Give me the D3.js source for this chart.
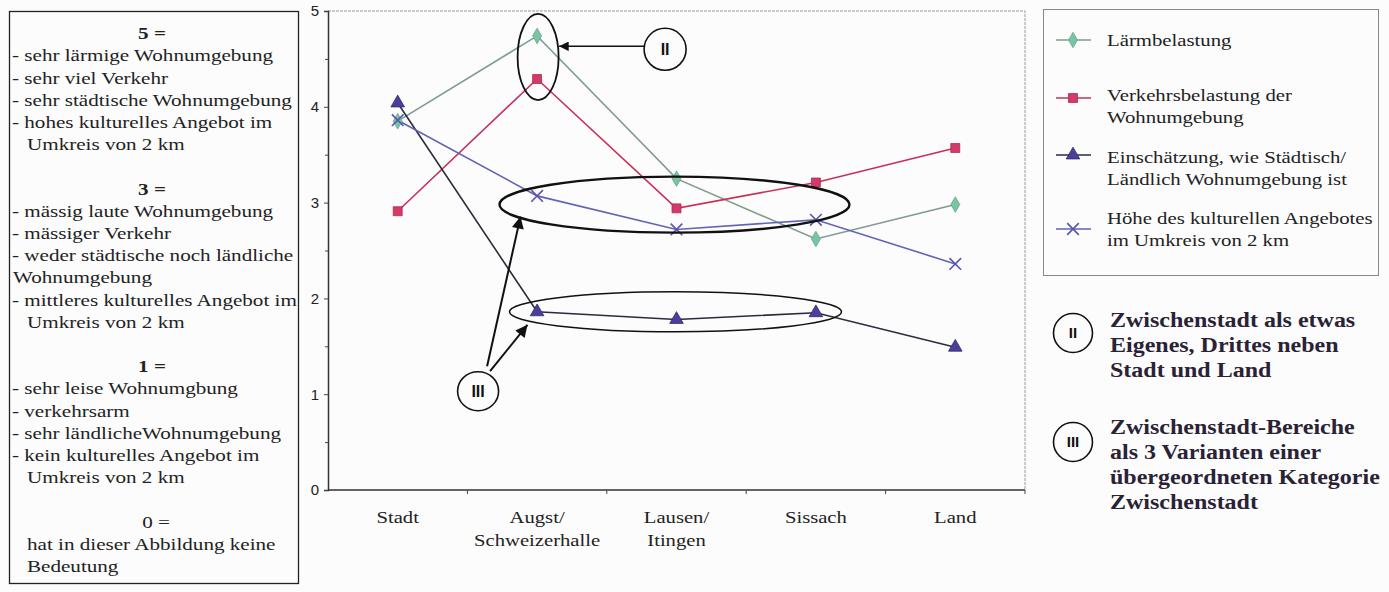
<!DOCTYPE html>
<html>
<head>
<meta charset="utf-8">
<script src="https://cdn.jsdelivr.net/npm/d3@7"></script>
<style>
  body { margin: 0; background: #fcfcfc; }
  svg { display: block; }
</style>
</head>
<body>
<svg id="chart" width="1389" height="592"></svg>
<script>
// categories + series
const categories = [["Stadt"], ["Augst/", "Schweizerhalle"], ["Lausen/", "Itingen"], ["Sissach"], ["Land"]];
const catKeys = ["Stadt", "Augst", "Lausen", "Sissach", "Land"];
const laerm = [3.85, 4.74, 3.25, 2.62, 2.98];
const verkehr = [2.91, 4.29, 2.94, 3.21, 3.57];
const einschaetzung = [4.04, 1.86, 1.78, 1.85, 1.49];
const kultur = [3.86, 3.07, 2.72, 2.82, 2.36];
const yTicks = [0, 1, 2, 3, 4, 5];

const seriesNames = [
  ["Lärmbelastung"],
  ["Verkehrsbelastung der", "Wohnumgebung"],
  ["Einschätzung, wie Städtisch/", "Ländlich Wohnumgebung ist"],
  ["Höhe des kulturellen Angebotes", "im Umkreis von 2 km"]
];

const leftText = [
  ["5 =", "h"], ["- sehr lärmige Wohnumgebung", "d"], ["- sehr viel Verkehr", "d"],
  ["- sehr städtische Wohnumgebung", "d"], ["- hohes kulturelles Angebot im", "d"],
  ["Umkreis von 2 km", "c"], ["", ""],
  ["3 =", "h"], ["- mässig laute Wohnumgebung", "d"], ["- mässiger Verkehr", "d"],
  ["- weder städtische noch ländliche", "d"], ["Wohnumgebung", "c2"],
  ["- mittleres kulturelles Angebot im", "d"], ["Umkreis von 2 km", "c"], ["", ""],
  ["1 =", "h"], ["- sehr  leise  Wohnumgbung", "d"], ["- verkehrsarm", "d"],
  ["- sehr ländlicheWohnumgebung", "d"], ["- kein kulturelles Angebot im", "d"],
  ["Umkreis von 2 km", "c"], ["", ""],
  ["0 =", "h0"], ["hat in dieser Abbildung keine", "c"], ["Bedeutung", "c"]
];

const notes = [
  { mark: "II", lines: ["Zwischenstadt als etwas", "Eigenes, Drittes neben", "Stadt und Land"] },
  { mark: "III", lines: ["Zwischenstadt-Bereiche", "als 3 Varianten einer", "übergeordneten Kategorie", "Zwischenstadt"] }
];

const svg = d3.select("#chart");
const serif = "'Liberation Serif', 'Times New Roman', serif";
const sans = "'Liberation Sans', Arial, sans-serif";
const SX = 1.2; // the original is stretched sideways
const place = (x, y) => `translate(${x},${y}) scale(${SX},1)`;

// ---- left explanation box
svg.append("rect").attr("x", 9.5).attr("y", 11.5).attr("width", 289).attr("height", 572)
  .attr("fill", "none").attr("stroke", "#222").attr("stroke-width", 1.3);
const lt = svg.append("g").attr("font-family", serif).attr("font-size", 17.6).attr("fill", "#222");
leftText.forEach((d, i) => {
  if (!d[0]) return;
  const yy = 33 + i * 22.2;
  const t = lt.append("text").attr("dy", "0.35em").text(d[0]);
  let xx = 25;
  if (d[1] === "h") { xx = 152; t.attr("text-anchor", "middle").attr("font-weight", "bold"); }
  else if (d[1] === "h0") { xx = 156; t.attr("text-anchor", "middle"); }
  else if (d[1] === "d") xx = 12;
  else if (d[1] === "c2") xx = 13;
  else xx = 27;
  t.attr("transform", place(xx, yy));
});

// ---- plot
const x = d3.scaleBand().domain(catKeys).range([328, 1025]).padding(0);
const cx = k => x(k) + x.bandwidth() / 2;
const y = d3.scaleLinear().domain([0, 5]).range([490, 11]);

// frame top/right (faint)
svg.append("path").attr("d", `M328,${y(5)}H1025V${y(0)}`)
  .attr("fill", "none").attr("stroke", "#999").attr("stroke-width", 1).attr("stroke-dasharray", "3,1");

// y axis
const yAxis = svg.append("g").attr("transform", "translate(328,0)")
  .call(d3.axisLeft(y).tickValues(yTicks).tickSize(4).tickFormat(d3.format("d")));
svg.append("g").attr("transform", "translate(328,0)")
  .call(d3.axisLeft(y).tickValues(d3.range(0.5, 5, 1)).tickSize(3).tickFormat(""))
  .select(".domain").remove();
yAxis.selectAll("text").attr("font-family", sans).attr("font-size", 15).attr("fill", "#222").attr("x", -9);
svg.selectAll(".tick line").attr("stroke", "#444");
yAxis.select(".domain").attr("stroke", "#333").attr("stroke-width", 1.5);

// x axis
const xAxis = svg.append("g").attr("transform", `translate(0,${y(0)})`);
xAxis.append("line").attr("x1", 328).attr("x2", 1025).attr("stroke", "#333").attr("stroke-width", 1.5);
xAxis.selectAll(".bt").data(catKeys.slice(1).concat(["end"])).join("line")
  .attr("x1", (d, i) => x.range()[0] + x.bandwidth() * (i + 1))
  .attr("x2", (d, i) => x.range()[0] + x.bandwidth() * (i + 1))
  .attr("y1", 0).attr("y2", 4).attr("stroke", "#444");
const xl = xAxis.selectAll(".xl").data(categories).join("text")
  .attr("text-anchor", "middle").attr("font-family", serif).attr("font-size", 17.2).attr("fill", "#222")
  .attr("transform", (d, i) => place(cx(catKeys[i]), 27));
xl.selectAll("tspan").data(d => d).join("tspan")
  .attr("x", 0).attr("dy", (d, i) => i === 0 ? "0.35em" : "1.35em").text(d => d);

// series
const series = [
  { name: seriesNames[0], values: laerm, line: "#7f9c8e", fill: "#79c4a2", stroke: "#6aa88a", sym: d3.symbolDiamond, size: 70 },
  { name: seriesNames[1], values: verkehr, line: "#c8305a", fill: "#d23a68", stroke: "#b02a50", sym: d3.symbolSquare, size: 80 },
  { name: seriesNames[2], values: einschaetzung, line: "#2c2c3c", fill: "#4a3f9c", stroke: "#2e2a70", sym: d3.symbolTriangle, size: 80 },
  { name: seriesNames[3], values: kultur, line: "#6363b8", fill: "none", stroke: "#5656b0", sym: d3.symbolX, size: 90 }
];
const line = d3.line().x((d, i) => cx(catKeys[i])).y(d => y(d));
series.forEach(s => {
  svg.append("path").attr("d", line(s.values)).attr("fill", "none")
    .attr("stroke", s.line).attr("stroke-width", 1.6);
});
series.forEach(s => {
  svg.selectAll(null).data(s.values).join("path")
    .attr("transform", (d, i) => `translate(${cx(catKeys[i])},${y(d)})`)
    .attr("d", d3.symbol(s.sym, s.size))
    .attr("fill", s.fill).attr("stroke", s.stroke).attr("stroke-width", s.sym === d3.symbolX ? 1.6 : 0.8);
});

// ---- annotations on the plot
const defs = svg.append("defs");
defs.append("marker").attr("id", "ah").attr("viewBox", "0 0 10 10").attr("refX", 10).attr("refY", 5)
  .attr("markerWidth", 8).attr("markerHeight", 6).attr("orient", "auto-start-reverse")
  .attr("markerUnits", "strokeWidth")
  .append("path").attr("d", "M0,0L10,5L0,10Z").attr("fill", "#111");
const ann = svg.append("g").attr("fill", "none").attr("stroke", "#111");

// II ellipse around Augst top values
ann.append("ellipse").attr("cx", cx("Augst") + 1).attr("cy", y(4.52))
  .attr("rx", 20.5).attr("ry", y(4.5) - y(4.95)).attr("stroke-width", 1.8);
const c2 = { x: cx("Augst") + 128, y: y(4.6) };
ann.append("circle").attr("cx", c2.x).attr("cy", c2.y).attr("r", 21).attr("stroke-width", 1.6).attr("fill", "#fcfcfc");
ann.append("line").attr("x1", c2.x - 21).attr("y1", c2.y - 3).attr("x2", cx("Augst") + 22).attr("y2", c2.y - 3)
  .attr("stroke-width", 1.6).attr("marker-end", "url(#ah)");

// III ellipses
const bigE = { cx: (cx("Augst") + cx("Sissach")) / 2 - 2, cy: y(3.0) + 2 };
ann.append("ellipse").attr("cx", bigE.cx).attr("cy", bigE.cy).attr("rx", 175).attr("ry", 28).attr("stroke-width", 2.4);
const lowE = { cx: (cx("Augst") + cx("Sissach")) / 2 - 1, cy: y(1.86) };
ann.append("ellipse").attr("cx", lowE.cx).attr("cy", lowE.cy).attr("rx", 166).attr("ry", 20).attr("stroke-width", 1.5);
const c3 = { x: cx("Augst") - 59, y: y(1.0) - 3 };
ann.append("ellipse").attr("cx", c3.x).attr("cy", c3.y).attr("rx", 20.5).attr("ry", 19.5).attr("stroke-width", 1.6);
ann.append("line").attr("x1", c3.x + 9).attr("y1", c3.y - 25).attr("x2", bigE.cx - 154).attr("y2", bigE.cy + 12)
  .attr("stroke-width", 2).attr("marker-end", "url(#ah)");
ann.append("line").attr("x1", c3.x + 12).attr("y1", c3.y - 20).attr("x2", lowE.cx - 148).attr("y2", lowE.cy + 13)
  .attr("stroke-width", 2).attr("marker-end", "url(#ah)");

svg.append("text").attr("x", c2.x).attr("y", c2.y).attr("dy", "0.36em").attr("text-anchor", "middle")
  .attr("font-family", sans).attr("font-weight", "bold").attr("font-size", 16).attr("fill", "#111").text("II");
svg.append("text").attr("x", c3.x).attr("y", c3.y).attr("dy", "0.36em").attr("text-anchor", "middle")
  .attr("font-family", sans).attr("font-weight", "bold").attr("font-size", 16).attr("fill", "#111").text("III");

// ---- legend
const lg = svg.append("g");
lg.append("rect").attr("x", 1043.5).attr("y", 9.5).attr("width", 335).attr("height", 266)
  .attr("fill", "#fcfcfc").attr("stroke", "#888");
const legendRows = [{ my: 40, ty: 40 }, { my: 98, ty: 95 }, { my: 155, ty: 157 }, { my: 229, ty: 218 }];
series.forEach((s, i) => {
  const r = legendRows[i];
  lg.append("line").attr("x1", 1056).attr("x2", 1091).attr("y1", r.my).attr("y2", r.my)
    .attr("stroke", s.line).attr("stroke-width", 1.4);
  lg.append("path").attr("transform", `translate(1073,${r.my})`).attr("d", d3.symbol(s.sym, s.size))
    .attr("fill", s.fill).attr("stroke", s.stroke).attr("stroke-width", s.sym === d3.symbolX ? 1.6 : 0.8);
  const t = lg.append("text").attr("font-family", serif).attr("font-size", 17.3).attr("fill", "#222")
    .attr("transform", place(1107, r.ty));
  t.selectAll("tspan").data(s.name).join("tspan").attr("x", 0)
    .attr("y", (d, j) => j * 22).attr("dy", "0.35em").text(d => d);
});

// ---- notes at right
const noteY = [320, 427];
notes.forEach((n, i) => {
  const cyN = i === 0 ? 333 : 442;
  svg.append("circle").attr("cx", 1073).attr("cy", cyN).attr("r", 19.5)
    .attr("fill", "none").attr("stroke", "#111").attr("stroke-width", 1.6);
  svg.append("text").attr("x", 1073).attr("y", cyN).attr("dy", "0.36em").attr("text-anchor", "middle")
    .attr("font-family", sans).attr("font-weight", "bold").attr("font-size", 15).attr("fill", "#111").text(n.mark);
  const t = svg.append("text").attr("font-family", serif).attr("font-weight", "bold")
    .attr("font-size", 20).attr("fill", "#2a2235").attr("transform", place(1110, noteY[i]));
  t.selectAll("tspan").data(n.lines).join("tspan").attr("x", 0)
    .attr("y", (d, j) => j * 25).attr("dy", "0.35em").text(d => d);
});
</script>
</body>
</html>
